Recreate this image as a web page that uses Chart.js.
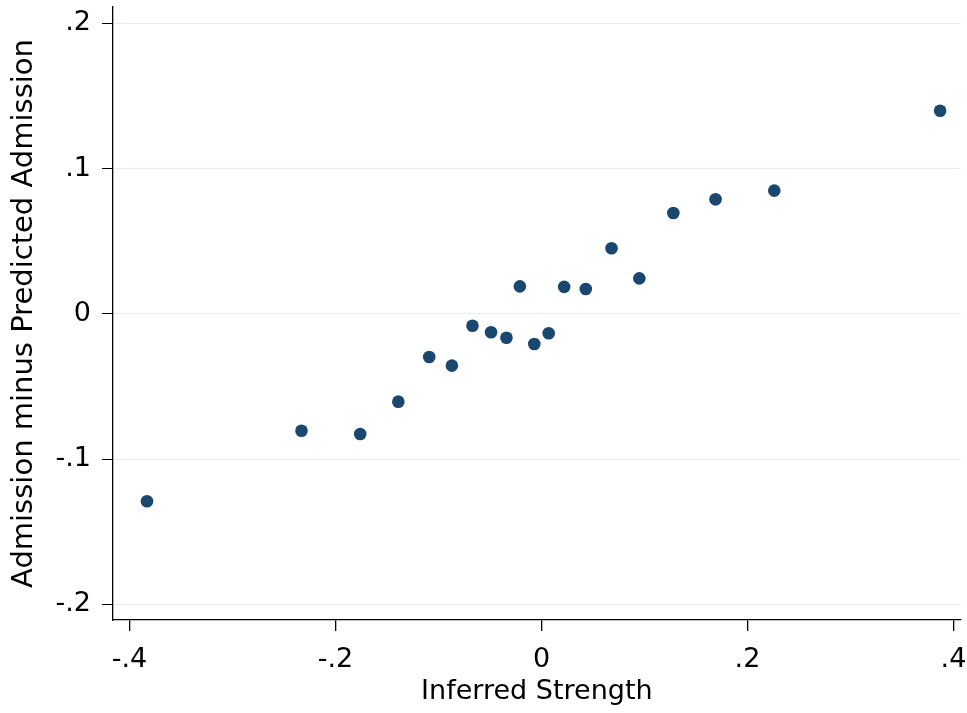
<!DOCTYPE html>
<html>
<head>
<meta charset="utf-8">
<title>Admission minus Predicted Admission vs Inferred Strength</title>
<script src="https://cdn.jsdelivr.net/npm/chart.js@4.4.1/dist/chart.umd.min.js"></script>
<style>
    html, body { margin: 0; padding: 0; background: #ffffff; }
    #scatter-chart { display: block; }
</style>
</head>
<body>
<canvas id="scatter-chart" width="967" height="713"></canvas>
<script>
// Binned scatter: x = inferred strength, y = admission minus predicted admission
var strength = [-0.383, -0.233, -0.176, -0.139, -0.109, -0.087, -0.067, -0.049, -0.034, -0.021,
                -0.007, 0.007, 0.022, 0.043, 0.068, 0.095, 0.128, 0.169, 0.226, 0.387];
var residual = [-0.129, -0.0805, -0.0828, -0.0605, -0.0297, -0.0357, -0.0082, -0.0127, -0.0165, 0.0189,
                -0.0208, -0.0134, 0.0185, 0.0171, 0.0451, 0.0244, 0.0694, 0.0788, 0.0848, 0.1398];
var xTicks = [-0.4, -0.2, 0, 0.2, 0.4];
var yTicks = [-0.2, -0.1, 0, 0.1, 0.2];

var FONT = 'DejaVu Sans';

// Stata style labels: ".2", "-.1", "0"
function stataLabel(v) {
    if (Math.abs(v) < 1e-9) return '0';
    return (v < 0 ? '-' : '') + Math.abs(v).toFixed(1).replace(/^0/, '');
}

function fixedTicks(list) {
    return function(scale) {
        scale.ticks = list.map(function(v) { return { value: v }; });
    };
}

var points = strength.map(function(x, i) { return { x: x, y: residual[i] }; });

new Chart(document.getElementById('scatter-chart').getContext('2d'), {
    type: 'scatter',
    data: {
        datasets: [{
            data: points,
            backgroundColor: '#1a476f',
            borderColor: '#1a476f',
            borderWidth: 0,
            pointRadius: 6.3,
            pointHoverRadius: 6.3
        }]
    },
    options: {
        responsive: false,
        animation: false,
        devicePixelRatio: 1,
        layout: { padding: { left: 0, right: 5, top: 7, bottom: 0 } },
        plugins: {
            legend: { display: false },
            tooltip: { enabled: false }
        },
        scales: {
            x: {
                type: 'linear',
                min: -0.416,
                max: 0.407,
                afterBuildTicks: fixedTicks(xTicks),
                afterFit: function(scale) {
                    scale.height = 93;
                    scale.paddingLeft = 0;
                    scale.paddingRight = 0;
                },
                border: { display: true, color: '#000000', width: 1.3 },
                grid: { drawOnChartArea: false, drawTicks: true, tickLength: 11, tickColor: '#000000', lineWidth: 1.3 },
                ticks: {
                    color: '#000000',
                    padding: 13,
                    maxRotation: 0,
                    font: { family: FONT, size: 27 },
                    callback: function(v) { return stataLabel(v); }
                },
                title: {
                    display: true,
                    text: 'Inferred Strength',
                    color: '#000000',
                    padding: { top: 0, bottom: 5 },
                    font: { family: FONT, size: 27 }
                }
            },
            y: {
                type: 'linear',
                min: -0.2108,
                max: 0.2112,
                afterBuildTicks: fixedTicks(yTicks),
                afterFit: function(scale) {
                    scale.width = 113;
                    scale.paddingTop = 0;
                    scale.paddingBottom = 0;
                },
                border: { display: true, color: '#000000', width: 1.3 },
                grid: { color: '#e4eef1', lineWidth: 1, drawTicks: true, tickLength: 11, tickColor: '#000000' },
                ticks: {
                    color: '#000000',
                    padding: 11,
                    font: { family: FONT, size: 27 },
                    callback: function(v) { return stataLabel(v); }
                },
                title: {
                    display: true,
                    text: 'Admission minus Predicted Admission',
                    color: '#000000',
                    padding: { top: 7, bottom: 0 },
                    font: { family: FONT, size: 29 }
                }
            }
        }
    }
});
</script>
</body>
</html>
